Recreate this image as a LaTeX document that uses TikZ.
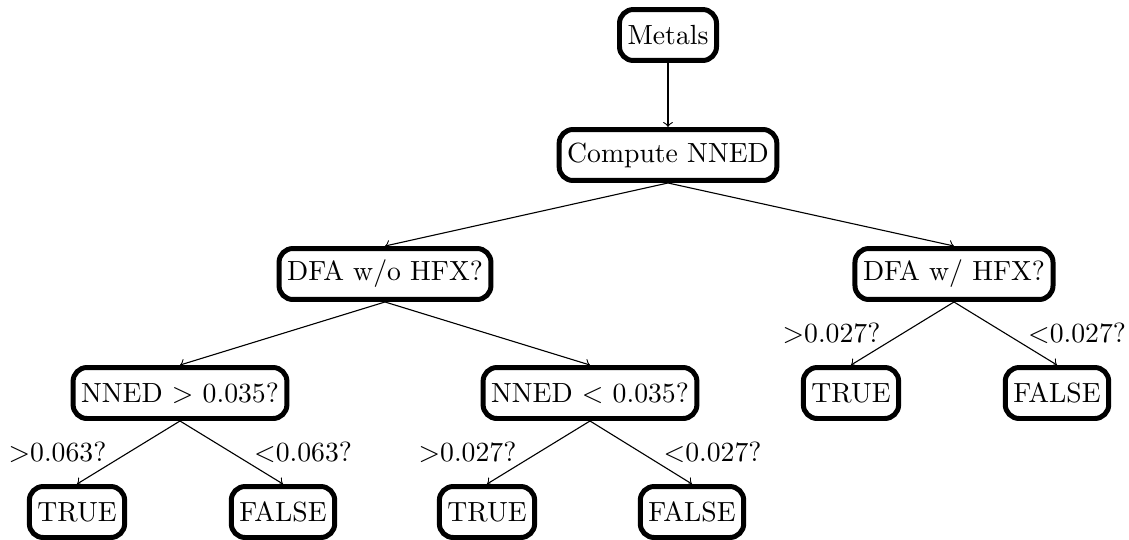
\documentclass[tikz,border=0pt]{standalone}
\usetikzlibrary{positioning}
\begin{document}
\begin{tikzpicture}[x=0.361pt,y=-0.361pt,
  box/.style={draw,line width=1.8pt,rounded corners=5pt,minimum height=18.4pt,inner xsep=2.9pt,inner ysep=2pt,fill=white},
  conn/.style={->},
  lbl/.style={inner sep=0pt}]
\useasboundingbox (0,0) rectangle (1129,539);
\node[box] (metals) at (668,35) {Metals};
\node[box] (compute) at (668,155) {Compute NNED};
\node[box] (dfawo) at (385,274) {DFA w/o HFX?};
\node[box] (dfaw) at (954,274) {DFA w/ HFX?};
\node[box] (gt) at (180,393) {NNED $>$ 0.035?};
\node[box] (lt) at (590,393) {NNED $<$ 0.035?};
\node[box] (t1) at (77,512) {TRUE};
\node[box] (f1) at (283,512) {FALSE};
\node[box] (t2) at (487,512) {TRUE};
\node[box] (f2) at (692,512) {FALSE};
\node[box] (t3) at (851,393) {TRUE};
\node[box] (f3) at (1057,393) {FALSE};
\draw[conn] (metals.south) -- (compute.north);
\draw[conn] (compute.south) -- (dfawo.north);
\draw[conn] (compute.south) -- (dfaw.north);
\draw[conn] (dfawo.south) -- (gt.north);
\draw[conn] (dfawo.south) -- (lt.north);
\draw[conn] (gt.south) -- node[lbl,midway,left=7.8pt] {$>$0.063?} (t1.north);
\draw[conn] (gt.south) -- node[lbl,midway,right=8pt] {$<$0.063?} (f1.north);
\draw[conn] (lt.south) -- node[lbl,midway,left=7.8pt] {$>$0.027?} (t2.north);
\draw[conn] (lt.south) -- node[lbl,midway,right=8pt] {$<$0.027?} (f2.north);
\draw[conn] (dfaw.south) -- node[lbl,midway,left=7.8pt] {$>$0.027?} (t3.north);
\draw[conn] (dfaw.south) -- node[lbl,midway,right=8pt] {$<$0.027?} (f3.north);
\end{tikzpicture}
\end{document}
